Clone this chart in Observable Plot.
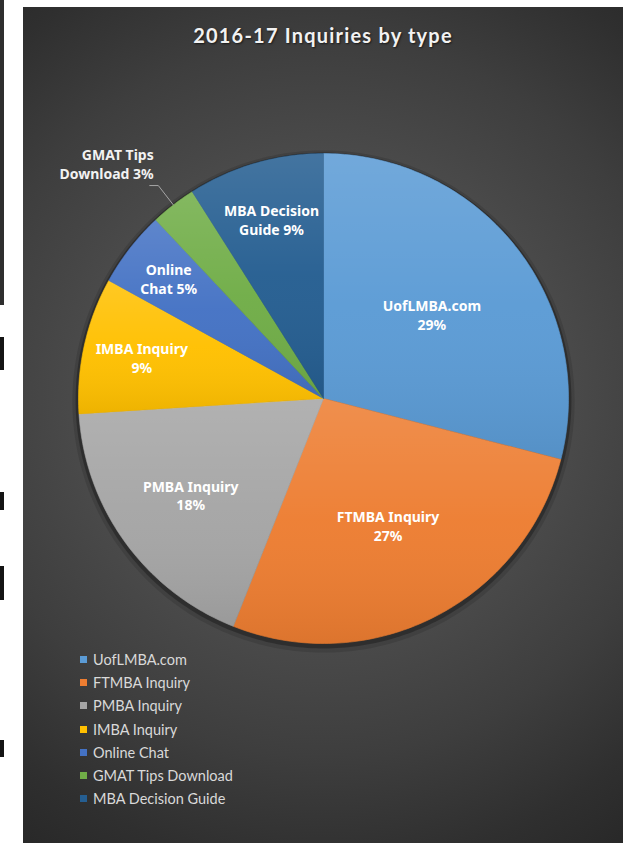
<!DOCTYPE html>
<html><head><meta charset="utf-8">
<script src="https://cdn.jsdelivr.net/npm/d3@7"></script>
<script src="https://cdn.jsdelivr.net/npm/@observablehq/plot@0.6"></script>
<style>
html,body{margin:0;padding:0;background:#fff;width:628px;height:843px;overflow:hidden;position:relative;font-family:Lato,"Open Sans",sans-serif;}
.edge{position:absolute;background:#141414;}
#panel{position:absolute;left:23px;top:7px;width:600px;height:836px;overflow:hidden;
 background:radial-gradient(circle 560px at 300px 391px,#4f4f4f 0%,#4b4b4b 42%,#3e3e3e 64%,#2f2f2f 84%,#262626 100%);}
#title{position:absolute;left:0;width:600px;top:16px;text-align:center;color:#f2f2f2;font-weight:bold;font-size:20px;letter-spacing:1.2px;text-shadow:1px 1px 2px rgba(0,0,0,.6);}
#chart{position:absolute;left:0;top:0;}
#chart svg{overflow:visible;}
#legend{position:absolute;left:57px;top:641px;}
.row{height:23.2px;display:flex;align-items:center;color:#d9d9d9;font-size:14.5px;white-space:nowrap;}
.sw{width:7px;height:7px;margin-right:6px;}
</style></head><body>
<svg width="0" height="0" style="position:absolute"><defs>
<linearGradient id="shine" x1="0" y1="0" x2="0" y2="1">
<stop offset="0" stop-color="#ffffff" stop-opacity="0.14"/>
<stop offset="0.5" stop-color="#ffffff" stop-opacity="0.03"/>
<stop offset="1" stop-color="#000000" stop-opacity="0.07"/>
</linearGradient></defs></svg>
<div class="edge" style="left:0;top:0;width:4px;height:305px;background:#2e2e2e"></div>
<div class="edge" style="left:0;top:337px;width:4px;height:33px"></div>
<div class="edge" style="left:0;top:492px;width:4px;height:18px"></div>
<div class="edge" style="left:0;top:566px;width:4px;height:34px"></div>
<div class="edge" style="left:0;top:740px;width:4px;height:17px"></div>
<div id="panel"><div id="chart"></div><div id="title"></div><div id="legend"></div></div>
<script>
const title = "2016-17 Inquiries by type";
const categories = ["UofLMBA.com","FTMBA Inquiry","PMBA Inquiry","IMBA Inquiry","Online Chat","GMAT Tips Download","MBA Decision Guide"];
const shares = [29,27,18,9,5,3,9];
const sliceLabels = ["UofLMBA.com\n29%","FTMBA Inquiry\n27%","PMBA Inquiry\n18%","IMBA Inquiry\n9%","Online\nChat 5%","GMAT Tips\nDownload 3%","MBA Decision\nGuide 9%"];
const colors = ["#5b9bd5","#ed7d31","#a5a5a5","#ffc000","#4472c4","#70ad47","#255e91"];

document.getElementById("title").textContent = title;

const total = d3.sum(shares);
let acc = 0;
const slices = categories.map((name, i) => {
  const a0 = acc / total * 2 * Math.PI; acc += shares[i];
  const a1 = acc / total * 2 * Math.PI;
  return {name, share: shares[i], label: sliceLabels[i], a0, a1, mid: (a0 + a1) / 2};
});
const pts = slices.flatMap(s => {
  const n = Math.max(2, Math.ceil((s.a1 - s.a0) / (Math.PI / 180)));
  const arr = [{name: s.name, x: 0, y: 0}];
  for (let k = 0; k <= n; k++) {
    const a = s.a0 + (s.a1 - s.a0) * k / n;
    arr.push({name: s.name, x: Math.sin(a), y: Math.cos(a), rim: true});
  }
  arr.push({name: s.name, x: 0, y: 0});
  return arr;
});
const rim = pts.filter(d => d.rim);
const shadow1 = rim.map(d => ({x: d.x * 1.012, y: d.y * 1.012}));
const shadow2 = rim.map(d => ({x: d.x * 1.025, y: d.y * 1.025}));
const inside = slices.filter(s => s.share >= 4).map(s => {
  const r = 0.85 - 0.01 * s.share;
  return {...s, x: r * Math.sin(s.mid), y: r * Math.cos(s.mid)};
});
const outsideSlices = slices.filter(s => s.share < 4);
const leaders = outsideSlices.flatMap(s => {
  const ex = 1.1 * Math.sin(s.mid), ey = 1.1 * Math.cos(s.mid);
  const dir = Math.sin(s.mid) < 0 ? -1 : 1;
  return [
    {name: s.name, x: Math.sin(s.mid), y: Math.cos(s.mid)},
    {name: s.name, x: ex, y: ey},
    {name: s.name, x: ex + dir * 0.035, y: ey, label: s.label, dir}
  ];
});
const outsideLabels = leaders.filter(d => d.label);

const chart = Plot.plot({
  width: 600, height: 836,
  marginLeft: 55, marginRight: 55, marginTop: 146, marginBottom: 200,
  style: {background: "transparent", overflow: "visible"},
  x: {domain: [-1, 1], axis: null},
  y: {domain: [-1, 1], axis: null},
  color: {domain: categories, range: colors},
  marks: [
    Plot.line(shadow2, {x: "x", y: "y", fill: "#000000", fillOpacity: 0.12, stroke: "none", dy: 3}),
    Plot.line(shadow1, {x: "x", y: "y", fill: "#000000", fillOpacity: 0.28, stroke: "none", dy: 2}),
    Plot.line(pts, {x: "x", y: "y", z: "name", fill: "name", stroke: "name", strokeWidth: 0.6}),
    Plot.line(pts, {x: "x", y: "y", z: "name", fill: "url(#shine)", stroke: "none"}),
    Plot.line(leaders, {x: "x", y: "y", z: "name", stroke: "#a6a6a6", strokeWidth: 1}),
    Plot.text(inside, {x: "x", y: "y", text: "label", fill: "#ffffff", fontWeight: "bold", fontSize: 14, lineHeight: 1.35}),
    Plot.text(outsideLabels, {x: "x", y: "y", text: "label", fill: "#f2f2f2", fontWeight: "bold", fontSize: 14, lineHeight: 1.35, textAnchor: "end", dx: 4, dy: -22})
  ]
});
document.getElementById("chart").appendChild(chart);

const legend = document.getElementById("legend");
categories.forEach((c, i) => {
  const row = document.createElement("div"); row.className = "row";
  const sw = document.createElement("span"); sw.className = "sw"; sw.style.background = colors[i];
  const t = document.createElement("span"); t.textContent = c;
  row.appendChild(sw); row.appendChild(t); legend.appendChild(row);
});
</script>
</body></html>
